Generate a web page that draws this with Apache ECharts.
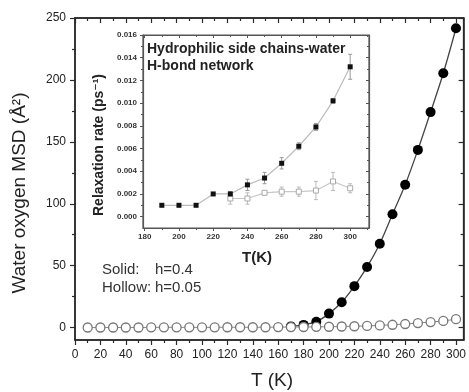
<!DOCTYPE html>
<html><head><meta charset="utf-8">
<script src="https://cdn.jsdelivr.net/npm/echarts@6/dist/echarts.min.js"></script>
<style>html,body{margin:0;padding:0;background:#fff}#c{width:469px;height:392px}</style>
</head><body><div id="c"></div>
<script>
// ---- data ----
const msdT = [10,20,30,40,50,60,70,80,90,100,110,120,130,140,150,160,170,180,190,200,210,220,230,240,250,260,270,280,290,300];
const msdHollow = [0.1,0.1,0.1,0.1,0.1,0.2,0.2,0.2,0.2,0.2,0.2,0.3,0.3,0.3,0.3,0.4,0.4,0.5,0.6,0.7,0.9,1.1,1.4,1.8,2.3,2.9,3.7,4.5,5.4,6.8];
const msdSolidT = [170,180,190,200,210,220,230,240,250,260,270,280,290,300];
const msdSolid = [1.0,2.2,4.8,11.3,20.5,33.5,49,67.7,91.5,115.3,143.5,174,205.4,241.7];
const insetSolidT = [190,200,210,220,230,240,250,260,270,280,290,300];
const insetSolid = [0.0010,0.0010,0.0010,0.0020,0.0020,0.0028,0.0034,0.0047,0.0062,0.0079,0.0102,0.0132];
const insetSolidErr = [0.0001,0.0001,0.0001,0.0001,0.0002,0.0005,0.0005,0.0005,0.0003,0.0003,0.0002,0.0011];
const insetHollowT = [230,240,250,260,270,280,290,300];
const insetHollow = [0.0016,0.0016,0.0021,0.0022,0.0022,0.0023,0.0031,0.0025];
const insetHollowErr = [0.0005,0.0005,0.0002,0.0004,0.0004,0.0008,0.0008,0.0004];
const mainXTicks = [0,20,40,60,80,100,120,140,160,180,200,220,240,260,280,300];
const mainXMinor = [10,30,50,70,90,110,130,150,170,190,210,230,250,270,290];
const mainYTicks = [0,50,100,150,200,250];
const mainYMinor = [25,75,125,175,225];
const insetXTicks = [180,200,220,240,260,280,300];
const insetXMinor = [190,210,230,250,270,290,310];
const insetYTicks = [0,0.002,0.004,0.006,0.008,0.010,0.012,0.014,0.016];
const insetYMinor = [0.001,0.003,0.005,0.007,0.009,0.011,0.013,0.015];

const FONT = '"Liberation Sans", Arial, "DejaVu Sans", sans-serif';

function mkAxis(grid, pos, min, max, values, o) {
  return {
    type: 'value', gridIndex: grid, position: pos, min: min, max: max,
    axisLine: {show: !!o.line, onZero: false, lineStyle: {color: o.color, width: o.lw || 1}},
    axisTick: {show: true, inside: !!o.inside, length: o.len, customValues: values,
               lineStyle: {color: o.color, width: o.tw || 1}},
    axisLabel: o.labels ? Object.assign({show: true, customValues: values, fontFamily: FONT}, o.labels) : {show: false},
    splitLine: {show: false}
  };
}

const MC = '#2a2a2a', IC = '#555';
const mainLab = {fontSize: 12, color: '#222', margin: 9};
const insetLabX = {fontSize: 8, fontWeight: 'bold', color: '#333', margin: 5};
const insetLabY = {fontSize: 8, fontWeight: 'bold', color: '#333', margin: 6, formatter: v => v.toFixed(3)};

const xAxes = [
  mkAxis(0, 'bottom', 0, 306, mainXTicks, {line: true, color: MC, lw: 1.5, len: 5, tw: 1.2, labels: mainLab}),
  mkAxis(0, 'bottom', 0, 306, mainXMinor, {color: MC, len: 3, tw: 1.2}),
  mkAxis(0, 'top', 0, 306, mainXTicks, {line: true, color: MC, lw: 1.5, len: 5, inside: true, tw: 1.2}),
  mkAxis(0, 'top', 0, 306, mainXMinor, {color: MC, len: 3, inside: true, tw: 1.2}),
  mkAxis(1, 'bottom', 179, 311, insetXTicks, {line: true, color: IC, lw: 1.2, len: 3, labels: insetLabX}),
  mkAxis(1, 'bottom', 179, 311, insetXMinor, {color: IC, len: 2}),
  mkAxis(1, 'top', 179, 311, insetXTicks, {line: true, color: IC, lw: 1.2, len: 3, inside: true}),
  mkAxis(1, 'top', 179, 311, insetXMinor, {color: IC, len: 2, inside: true})
];
const yAxes = [
  mkAxis(0, 'left', -10, 250, mainYTicks, {line: true, color: MC, lw: 1.5, len: 5, tw: 1.2, labels: mainLab}),
  mkAxis(0, 'left', -10, 250, mainYMinor, {color: MC, len: 3, tw: 1.2}),
  mkAxis(0, 'right', -10, 250, mainYTicks, {line: true, color: MC, lw: 1.5, len: 5, inside: true, tw: 1.2}),
  mkAxis(0, 'right', -10, 250, mainYMinor, {color: MC, len: 3, inside: true, tw: 1.2}),
  mkAxis(1, 'left', -0.001, 0.016, insetYTicks, {line: true, color: IC, lw: 1.2, len: 3, labels: insetLabY}),
  mkAxis(1, 'left', -0.001, 0.016, insetYMinor, {color: IC, len: 2}),
  mkAxis(1, 'right', -0.001, 0.016, insetYTicks, {line: true, color: IC, lw: 1.2, len: 3, inside: true}),
  mkAxis(1, 'right', -0.001, 0.016, insetYMinor, {color: IC, len: 2, inside: true})
];

function errRender(color) {
  return function (params, api) {
    const x = api.value(0), y = api.value(1), e = api.value(2);
    const p1 = api.coord([x, y - e]), p2 = api.coord([x, y + e]);
    const w = 2;
    const st = {stroke: color, lineWidth: 1};
    return {type: 'group', children: [
      {type: 'line', shape: {x1: p1[0], y1: p1[1], x2: p2[0], y2: p2[1]}, style: st},
      {type: 'line', shape: {x1: p1[0]-w, y1: p1[1], x2: p1[0]+w, y2: p1[1]}, style: st},
      {type: 'line', shape: {x1: p2[0]-w, y1: p2[1], x2: p2[0]+w, y2: p2[1]}, style: st}
    ]};
  };
}

const chart = echarts.init(document.getElementById('c'), null, {renderer: 'canvas'});
chart.setOption({
  animation: false,
  backgroundColor: '#fff',
  grid: [
    {left: 75, top: 18, width: 391, height: 322, show: true, backgroundColor: 'transparent', borderColor: MC, borderWidth: 1.5},
    {left: 143, top: 35, width: 226, height: 193, show: true, backgroundColor: 'transparent', borderColor: IC, borderWidth: 1.2}
  ],
  xAxis: xAxes,
  yAxis: yAxes,
  series: [
    {type: 'line', xAxisIndex: 0, yAxisIndex: 0, smooth: 0.3, data: msdSolidT.map((t, i) => [t, msdSolid[i]]),
     symbol: 'circle', symbolSize: 10, itemStyle: {color: '#000'}, lineStyle: {color: '#444', width: 1.3}, z: 2},
    {type: 'line', xAxisIndex: 0, yAxisIndex: 0, data: msdT.map((t, i) => [t, msdHollow[i]]),
     symbol: 'circle', symbolSize: 9, itemStyle: {color: '#fff', borderColor: '#777', borderWidth: 1.3},
     lineStyle: {color: '#888', width: 1}, z: 3},
    {type: 'custom', xAxisIndex: 4, yAxisIndex: 4, renderItem: errRender('#999'), z: 6,
     data: insetSolidT.map((t, i) => [t, insetSolid[i], insetSolidErr[i]])},
    {type: 'custom', xAxisIndex: 4, yAxisIndex: 4, renderItem: errRender('#bbb'), z: 6,
     data: insetHollowT.map((t, i) => [t, insetHollow[i], insetHollowErr[i]])},
    {type: 'line', xAxisIndex: 4, yAxisIndex: 4, data: insetHollowT.map((t, i) => [t, insetHollow[i]]),
     symbol: 'rect', symbolSize: 5, itemStyle: {color: '#fff', borderColor: '#aaa', borderWidth: 1},
     lineStyle: {color: '#c8c8c8', width: 1.2}, z: 7},
    {type: 'line', xAxisIndex: 4, yAxisIndex: 4, data: insetSolidT.map((t, i) => [t, insetSolid[i]]),
     symbol: 'rect', symbolSize: 5, itemStyle: {color: '#111'},
     lineStyle: {color: '#bbb', width: 1.2}, z: 8}
  ],
  graphic: [
    {type: 'text', x: 20, y: 193, rotation: Math.PI / 2, z: 10,
     style: {text: 'Water oxygen MSD (Å²)', font: '19px ' + FONT, fill: '#222', align: 'center', verticalAlign: 'middle'}},
    {type: 'text', x: 272, y: 381, z: 10,
     style: {text: 'T (K)', font: '19px ' + FONT, fill: '#222', align: 'center', verticalAlign: 'middle'}},
    {type: 'text', x: 102, y: 270, z: 10,
     style: {text: 'Solid:', font: '15px ' + FONT, fill: '#333', align: 'left', verticalAlign: 'middle'}},
    {type: 'text', x: 155, y: 270, z: 10,
     style: {text: 'h=0.4', font: '15px ' + FONT, fill: '#333', align: 'left', verticalAlign: 'middle'}},
    {type: 'text', x: 102, y: 288, z: 10,
     style: {text: 'Hollow:', font: '15px ' + FONT, fill: '#333', align: 'left', verticalAlign: 'middle'}},
    {type: 'text', x: 155, y: 288, z: 10,
     style: {text: 'h=0.05', font: '15px ' + FONT, fill: '#333', align: 'left', verticalAlign: 'middle'}},
    {type: 'text', x: 147, y: 49, z: 10,
     style: {text: 'Hydrophilic side chains-water', font: 'bold 14px ' + FONT, fill: '#222', align: 'left', verticalAlign: 'middle'}},
    {type: 'text', x: 147, y: 66, z: 10,
     style: {text: 'H-bond network', font: 'bold 14px ' + FONT, fill: '#222', align: 'left', verticalAlign: 'middle'}},
    {type: 'text', x: 99, y: 145, rotation: Math.PI / 2, z: 10,
     style: {text: 'Relaxation rate (ps⁻¹)', font: 'bold 14px ' + FONT, fill: '#222', align: 'center', verticalAlign: 'middle'}},
    {type: 'text', x: 257, y: 258, z: 10,
     style: {text: 'T(K)', font: 'bold 15px ' + FONT, fill: '#222', align: 'center', verticalAlign: 'middle'}}
  ]
});
</script>
</body></html>
